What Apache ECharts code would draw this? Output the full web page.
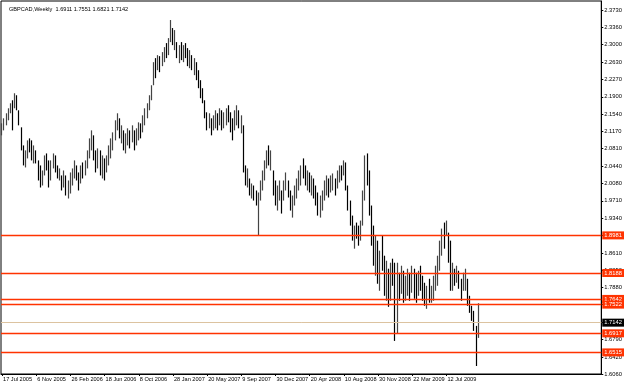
<!DOCTYPE html>
<html>
<head>
<meta charset="utf-8">
<script src="https://cdn.jsdelivr.net/npm/echarts@6/dist/echarts.min.js"></script>
<style>
  html, body { margin: 0; padding: 0; background: #fff; }
  #chart { width: 625px; height: 384px; }
</style>
</head>
<body>
<div id="chart"></div>
<script>
var symbolName = 'GBPCAD,Weekly';
var firstWeek = '2005-07-17';
var slotCount = 281;

var opens = [
2.1150,2.1300,2.1400,2.1520,2.1600,2.1700,2.1650,2.1900,2.1600,2.1250,
2.0800,2.0500,2.0700,2.0900,2.0800,2.0650,2.0750,2.0550,2.0200,2.0100,
2.0300,2.0600,2.0400,2.0150,2.0500,2.0650,2.0400,2.0250,2.0244,1.9990,
2.0244,1.9880,2.0100,2.0250,2.0350,2.0450,2.0200,2.0075,2.0400,2.0250,
2.0500,2.0700,2.0950,2.1089,2.0650,2.0400,2.0700,2.0300,2.0500,2.0307,
2.0600,2.0800,2.0950,2.1100,2.1350,2.1448,2.1100,2.1194,2.0850,2.1050,
2.1194,2.0941,2.1194,2.0877,2.1150,2.1300,2.1152,2.1450,2.1600,2.1700,
2.1900,2.2145,2.2600,2.2462,2.2700,2.2547,2.2800,2.2900,2.2779,2.3100,
2.3350,2.3050,2.3054,2.2750,2.2900,2.2700,2.2950,2.2800,2.2600,2.2779,
2.2500,2.2631,2.2300,2.2150,2.1950,2.1828,2.1500,2.1250,2.1448,2.1194,
2.1450,2.1550,2.1300,2.1600,2.1250,2.1500,2.1620,2.1450,2.1200,2.1194,
2.1550,2.1617,2.1300,2.1300,2.0350,2.0100,2.0180,1.9900,2.0000,1.9800,
1.9700,1.9800,2.0050,2.0300,2.0500,2.0700,2.0550,2.0349,1.9880,1.9700,
1.9850,1.9927,1.9715,2.0050,2.0138,1.9850,1.9600,1.9700,1.9950,2.0100,
2.0250,2.0400,2.0300,2.0150,2.0250,2.0000,2.0150,1.9850,1.9700,1.9500,
1.9750,1.9850,2.0050,2.0150,1.9900,2.0150,2.0180,1.9969,2.0300,2.0400,
2.0250,2.0500,2.0000,1.9600,1.9250,1.8950,1.9100,1.9000,1.8870,1.9250,
1.9850,2.0500,2.0150,1.9500,1.8850,1.8450,1.8700,1.8050,1.8550,1.8300,
1.7800,1.8279,1.7650,1.8250,1.8000,1.7000,1.8194,1.7750,1.8236,1.7650,
1.8000,1.8194,1.7772,1.8250,1.7750,1.7708,1.8150,1.8000,1.7700,1.7600,
1.7850,1.7650,1.7850,1.8050,1.8250,1.8450,1.8800,1.9050,1.8976,1.9000,
1.8500,1.7900,1.8279,1.8000,1.8236,1.7900,1.7814,1.8100,1.8067,1.7550,
1.7400,1.7250,1.7050,1.6911
];

var closes = [
2.1300,2.1400,2.1520,2.1600,2.1700,2.1650,2.1930,2.1680,2.1350,2.0800,
2.0500,2.0700,2.0900,2.0800,2.0650,2.0750,2.0550,2.0200,2.0100,2.0300,
2.0600,2.0400,2.0050,2.0500,2.0650,2.0400,2.0250,2.0350,1.9980,2.0300,
1.9880,2.0100,2.0250,2.0350,2.0500,2.0200,2.0000,2.0400,2.0250,2.0500,
2.0700,2.0950,2.1100,2.0650,2.0400,2.0700,2.0300,2.0500,2.0200,2.0600,
2.0800,2.0950,2.1100,2.1350,2.1450,2.1100,2.1200,2.0850,2.1050,2.1200,
2.0900,2.1250,2.0850,2.1150,2.1300,2.1100,2.1450,2.1600,2.1700,2.1900,
2.2100,2.2600,2.2400,2.2700,2.2500,2.2800,2.2900,2.2750,2.3100,2.3400,
2.3050,2.3250,2.2750,2.2900,2.2700,2.2950,2.2800,2.2600,2.2800,2.2500,
2.2650,2.2300,2.2150,2.1950,2.1850,2.1500,2.1250,2.1450,2.1150,2.1450,
2.1550,2.1250,2.1600,2.1250,2.1500,2.1620,2.1450,2.1200,2.1050,2.1550,
2.1650,2.1300,2.1400,2.0350,2.0100,2.0300,1.9900,2.0000,1.9800,1.9700,
1.9800,2.0050,2.0300,2.0500,2.0700,2.0550,2.0650,1.9880,1.9700,1.9850,
2.0050,1.9500,2.0050,2.0200,1.9850,1.9600,1.9700,1.9950,2.0100,2.0250,
2.0400,2.0300,2.0150,2.0250,2.0000,2.0150,1.9850,1.9700,1.9500,1.9750,
1.9850,2.0050,2.0150,1.9900,2.0150,2.0250,1.9950,2.0300,2.0400,2.0250,
2.0500,2.0000,1.9600,1.9250,1.8950,1.9100,1.9000,1.8850,1.9250,1.9850,
2.0500,2.0150,1.9500,1.8850,1.8450,1.8700,1.8050,1.8550,1.8300,1.7800,
1.8300,1.7600,1.8250,1.8000,1.7000,1.8200,1.7700,1.8250,1.7650,1.8000,
1.8200,1.7700,1.8250,1.7750,1.7650,1.8150,1.8000,1.7700,1.7600,1.7850,
1.7650,1.7850,1.8050,1.8250,1.8450,1.8800,1.9050,1.8900,1.9200,1.8500,
1.7900,1.8300,1.8000,1.8250,1.7900,1.7700,1.8100,1.8200,1.7550,1.7400,
1.7250,1.7050,1.6911,1.7142
];

var lows = [
2.1089,2.1194,2.1300,2.1406,2.1554,2.1194,2.1659,2.1617,2.1300,2.0772,
2.0455,2.0413,2.0603,2.0730,2.0561,2.0497,2.0497,2.0138,1.9990,2.0032,
2.0244,2.0349,1.9990,2.0138,2.0392,2.0307,2.0180,2.0138,1.9927,1.9990,
1.9821,1.9758,1.9863,2.0032,2.0180,2.0138,1.9927,2.0075,2.0180,2.0244,
2.0392,2.0603,2.0772,2.0561,2.0307,2.0392,2.0244,2.0180,2.0138,2.0307,
2.0455,2.0603,2.0772,2.0983,2.1194,2.1025,2.0920,2.0772,2.0708,2.0877,
2.0814,2.0941,2.0772,2.0877,2.0983,2.1025,2.1152,2.1300,2.1448,2.1617,
2.1828,2.2145,2.2293,2.2462,2.2420,2.2547,2.2631,2.2716,2.2779,2.3054,
2.2990,2.2885,2.2716,2.2610,2.2674,2.2631,2.2716,2.2547,2.2504,2.2462,
2.2357,2.2251,2.2082,2.1871,2.1765,2.1448,2.1194,2.1237,2.1089,2.1194,
2.1237,2.1194,2.1300,2.1194,2.1237,2.1300,2.1363,2.1152,2.0983,2.1194,
2.1300,2.1237,2.1131,2.0307,2.0032,1.9990,1.9821,1.9758,1.9715,1.9610,
1.8985,1.9715,1.9927,2.0138,2.0392,2.0455,2.0349,1.9821,1.9610,1.9504,
1.9715,1.9441,1.9715,1.9927,1.9779,1.9504,1.9356,1.9610,1.9758,1.9927,
2.0032,2.0180,2.0032,1.9927,1.9885,1.9821,1.9758,1.9610,1.9398,1.9356,
1.9504,1.9715,1.9821,1.9779,1.9885,1.9927,1.9821,1.9969,2.0096,2.0138,
2.0244,1.9927,1.9504,1.9187,1.8870,1.8701,1.8912,1.8764,1.8870,1.9187,
1.9715,2.0032,1.9398,1.8764,1.8342,1.8131,1.7962,1.7814,1.8236,1.7708,
1.7603,1.7476,1.7603,1.7919,1.6757,1.6905,1.7603,1.7750,1.7561,1.7603,
1.7708,1.7603,1.7772,1.7645,1.7561,1.7708,1.7814,1.7603,1.7497,1.7434,
1.7561,1.7561,1.7603,1.7814,1.7919,1.8236,1.8553,1.8701,1.8976,1.8405,
1.7814,1.7814,1.7919,1.7983,1.7856,1.7603,1.7814,1.7814,1.7497,1.7349,
1.7180,1.6968,1.6229,1.6821
];

var highs = [
2.1342,2.1448,2.1554,2.1659,2.1765,2.1828,2.1976,2.1934,2.1617,2.1258,
2.0877,2.0772,2.0983,2.1025,2.0983,2.0877,2.0772,2.0561,2.0455,2.0349,
2.0666,2.0708,2.0561,2.0561,2.0708,2.0666,2.0455,2.0392,2.0244,2.0349,
2.0244,2.0138,2.0307,2.0392,2.0561,2.0455,2.0307,2.0455,2.0518,2.0561,
2.0772,2.1025,2.1194,2.1089,2.0772,2.0814,2.0772,2.0666,2.0603,2.0666,
2.0877,2.1025,2.1152,2.1406,2.1554,2.1448,2.1300,2.1194,2.1131,2.1237,
2.1194,2.1300,2.1194,2.1237,2.1363,2.1342,2.1511,2.1659,2.1765,2.1934,
2.2145,2.2631,2.2716,2.2779,2.2758,2.2843,2.2948,2.3033,2.3138,2.3519,
2.3350,2.3307,2.3054,2.2990,2.3054,2.2990,2.3033,2.2927,2.2885,2.2779,
2.2716,2.2631,2.2462,2.2251,2.2082,2.1828,2.1575,2.1554,2.1448,2.1511,
2.1617,2.1554,2.1659,2.1617,2.1575,2.1659,2.1723,2.1575,2.1448,2.1617,
2.1723,2.1617,2.1511,2.1300,2.0455,2.0392,2.0180,2.0075,2.0032,1.9927,
1.9885,2.0138,2.0349,2.0561,2.0772,2.0877,2.0772,2.0349,2.0138,2.0032,
2.0138,1.9927,2.0138,2.0307,2.0138,1.9927,1.9821,2.0032,2.0180,2.0349,
2.0455,2.0603,2.0455,2.0349,2.0307,2.0244,2.0180,2.0032,1.9885,1.9821,
1.9927,2.0138,2.0244,2.0180,2.0244,2.0286,2.0180,2.0349,2.0455,2.0455,
2.0561,2.0518,2.0032,1.9715,1.9398,1.9187,1.9251,1.9187,1.9293,1.9927,
2.0666,2.0708,2.0349,1.9610,1.9187,1.8976,1.8870,1.8659,1.8976,1.8553,
1.8447,1.8279,1.8405,1.8490,1.8405,1.8405,1.8194,1.8342,1.8236,1.8131,
1.8279,1.8194,1.8342,1.8279,1.8194,1.8236,1.8342,1.8131,1.7983,1.7919,
1.8067,1.7919,1.8131,1.8342,1.8553,1.8870,1.9124,1.9251,1.9293,1.9039,
1.8870,1.8405,1.8279,1.8342,1.8236,1.8067,1.8194,1.8279,1.8067,1.7708,
1.7497,1.7391,1.7074,1.7551
];

var xTickLabels = ['17 Jul 2005', '6 Nov 2005', '26 Feb 2006', '18 Jun 2006', '8 Oct 2006',
  '28 Jan 2007', '20 May 2007', '9 Sep 2007', '30 Dec 2007', '20 Apr 2008',
  '10 Aug 2008', '30 Nov 2008', '22 Mar 2009', '12 Jul 2009'];
var weeksPerTick = 16;

var yTicks = [2.3730, 2.3360, 2.3000, 2.2630, 2.2270, 2.1900, 2.1540, 2.1170, 2.0810, 2.0440,
  2.0080, 1.9710, 1.9340, 1.8980, 1.8610, 1.8250, 1.7880, 1.7520, 1.7150, 1.6790, 1.6420, 1.6060];

var levels = [1.8981, 1.8188, 1.7642, 1.7522, 1.6917, 1.6515];
var lastPrice = 1.7142;

// weekly category slots (incl. empty space on the right)
var months = ['Jan','Feb','Mar','Apr','May','Jun','Jul','Aug','Sep','Oct','Nov','Dec'];
var categories = [];
var d0 = new Date(firstWeek + 'T00:00:00Z');
for (var i = 0; i < slotCount; i++) {
  var d = new Date(d0.getTime() + i * 7 * 86400000);
  categories.push(d.getUTCDate() + ' ' + months[d.getUTCMonth()] + ' ' + d.getUTCFullYear());
}

var ohlc = opens.map(function (o, i) {
  return [o, closes[i], lows[i], highs[i]];
});

var n = opens.length - 1;
var titleText = symbolName + '  ' + [opens[n], highs[n], lows[n], closes[n]]
  .map(function (v) { return v.toFixed(4); }).join(' ');

function isTick(i) {
  return i % weeksPerTick === 0 && i / weeksPerTick < xTickLabels.length;
}

var smallFont = 'Liberation Sans';

var lineData = levels.map(function (v) {
  return { yAxis: v };
});
lineData.push({
  yAxis: lastPrice,
  lineStyle: { color: '#dcc3a0', width: 1, type: 'solid' },
  label: { backgroundColor: '#000', color: '#fff' }
});

var myChart = echarts.init(document.getElementById('chart'), null, { renderer: 'canvas' });

var option = {
  backgroundColor: '#fff',
  animation: false,
  title: {
    text: titleText,
    left: 4,
    top: 1,
    textStyle: { fontSize: 5.6, fontWeight: 'normal', color: '#000', fontFamily: smallFont }
  },
  grid: {
    left: 1, top: 1, right: 23, bottom: 10,
    show: true, borderColor: '#000', borderWidth: 1, backgroundColor: '#fff'
  },
  xAxis: {
    type: 'category',
    data: categories,
    boundaryGap: true,
    axisLine: { lineStyle: { color: '#000', width: 1 } },
    axisTick: {
      show: true, length: 2, alignWithLabel: true,
      interval: function (i) { return isTick(i); },
      lineStyle: { color: '#000' }
    },
    axisLabel: {
      interval: function (i) { return isTick(i); },
      formatter: function (val, i) { return isTick(i) ? xTickLabels[i / weeksPerTick] : ''; },
      align: 'left',
      margin: 2,
      padding: [0, 0, 0, 1],
      fontSize: 5.6,
      color: '#000',
      fontFamily: smallFont
    },
    splitLine: { show: false }
  },
  yAxis: {
    type: 'value',
    position: 'right',
    min: 1.6060,
    max: 2.3920,
    scale: true,
    axisLine: { show: true, lineStyle: { color: '#000', width: 1 } },
    axisTick: {
      show: true, length: 2, customValues: yTicks,
      lineStyle: { color: '#000' }
    },
    axisLabel: {
      customValues: yTicks,
      formatter: function (v) { return v.toFixed(4); },
      margin: 3,
      fontSize: 5.8,
      color: '#000',
      fontFamily: smallFont
    },
    splitLine: { show: false }
  },
  series: [{
    type: 'candlestick',
    name: symbolName,
    data: ohlc,
    barWidth: 1,
    itemStyle: {
      color: '#444', color0: '#000',
      borderColor: '#444', borderColor0: '#000',
      borderWidth: 1.2
    },
    markLine: {
      silent: true,
      symbol: ['none', 'none'],
      precision: 4,
      lineStyle: { color: '#ff3300', width: 1.3, type: 'solid' },
      label: {
        show: true,
        position: 'end',
        distance: 1,
        formatter: function (p) { return Number(p.value).toFixed(4); },
        backgroundColor: '#ff3300',
        color: '#fff',
        padding: [1, 2, 1, 2],
        fontSize: 5.8,
        fontFamily: smallFont
      },
      data: lineData
    }
  }]
};

myChart.setOption(option);
</script>
</body>
</html>
